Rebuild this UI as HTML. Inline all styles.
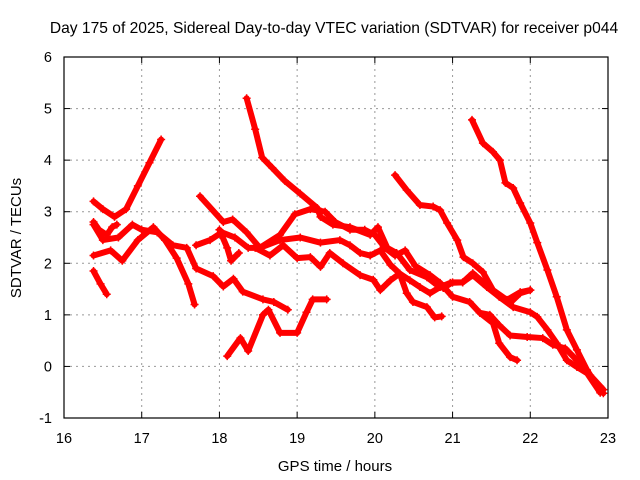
<!DOCTYPE html>
<html><head><meta charset="utf-8"><style>
body{margin:0;background:#fff}
svg{display:block;font-family:"Liberation Sans",sans-serif}
</style></head><body>
<svg id="chart" width="640" height="480">
<rect width="640" height="480" fill="#fff"/>
<text x="334" y="33" text-anchor="middle" font-size="15.6">Day 175 of 2025, Sidereal Day-to-day VTEC variation (SDTVAR) for receiver p044</text>
<text x="335" y="471" text-anchor="middle" font-size="15">GPS time / hours</text>
<text transform="translate(21,238) rotate(-90)" text-anchor="middle" font-size="15">SDTVAR / TECUs</text>
<g id="grid"></g><g id="ticks"></g><g id="marks"></g>
<rect x="64" y="57" width="544" height="361" fill="none" stroke="#000" stroke-width="1.2"/>
</svg>
<script>
const xTicks=[16,17,18,19,20,21,22,23];
const yTicks=[-1,0,1,2,3,4,5,6];
const s1=[[16.38,3.2],[16.5,3.05],[16.65,2.9],[16.8,3.05],[16.95,3.5],[17.1,3.95],[17.25,4.4]];
const s2=[[16.38,1.85],[16.47,1.6],[16.55,1.4]];
const s3=[[16.38,2.15],[16.6,2.25],[16.75,2.05],[16.95,2.45],[17.15,2.7],[17.3,2.45],[17.45,2.1],[17.6,1.6],[17.68,1.2]];
const s4=[[16.38,2.75],[16.5,2.45],[16.7,2.5],[16.88,2.75],[17.0,2.65],[17.2,2.6],[17.4,2.35],[17.58,2.3],[17.7,1.9],[17.92,1.75],[18.05,1.55],[18.18,1.7],[18.3,1.45],[18.56,1.3],[18.7,1.25],[18.88,1.1]];
const s5=[[18.1,0.2],[18.27,0.55],[18.37,0.3],[18.56,1.0],[18.63,1.1],[18.78,0.65],[19.0,0.65],[19.12,1.05],[19.2,1.3],[19.38,1.3]];
const s6=[[18.35,5.2],[18.46,4.6],[18.55,4.05],[18.68,3.85],[18.84,3.6],[19.04,3.35],[19.26,3.07],[19.3,2.9],[19.46,2.75],[19.68,2.7],[19.94,2.55],[20.04,2.7],[20.16,2.3],[20.28,2.2],[20.45,1.87],[20.67,1.73],[20.8,1.58],[20.88,1.52],[21.0,1.63],[21.13,1.63],[21.26,1.77],[21.44,1.54],[21.6,1.35],[21.74,1.23],[21.87,1.42],[22.0,1.48]];
const s7=[[18.52,2.3],[18.78,2.55],[18.97,2.95],[19.17,3.05],[19.36,3.0],[19.49,2.8],[19.68,2.65],[19.87,2.65],[20.0,2.55],[20.13,2.3],[20.26,2.15],[20.39,2.25],[20.52,1.95],[20.71,1.77],[20.84,1.62],[21.0,1.35],[21.22,1.25],[21.35,1.04],[21.48,1.0],[21.6,0.8],[21.74,0.6],[21.96,0.57],[22.16,0.55],[22.29,0.42],[22.45,0.35],[22.6,0.12],[22.77,-0.17],[22.94,-0.45]];
const s8=[[17.75,3.3],[18.05,2.8],[18.17,2.85],[18.35,2.6],[18.52,2.3],[18.78,2.45],[19.04,2.5],[19.3,2.4],[19.55,2.45],[19.68,2.35],[19.81,2.2],[19.94,2.15],[20.07,2.25],[20.2,1.97],[20.32,1.8],[20.45,1.67],[20.58,1.54],[20.71,1.42],[20.84,1.54],[20.97,1.62],[21.13,1.63],[21.26,1.81],[21.48,1.52],[21.6,1.35],[21.78,1.15],[22.0,1.05],[22.09,0.96],[22.22,0.71],[22.34,0.45],[22.47,0.12],[22.6,-0.01],[22.73,-0.13],[22.9,-0.51]];
const s9=[[17.7,2.35],[17.88,2.45],[18.03,2.6],[18.2,2.5],[18.37,2.3],[18.46,2.3],[18.65,2.15],[18.82,2.35],[19.0,2.1],[19.17,2.12],[19.3,1.93],[19.42,2.2],[19.59,2.0],[19.81,1.77],[19.98,1.68],[20.07,1.48],[20.2,1.67],[20.32,1.8],[20.41,1.42],[20.49,1.25],[20.67,1.15],[20.77,0.95],[20.86,0.97]];
const s10=[[18.0,2.65],[18.1,2.3],[18.15,2.05],[18.25,2.2]];
const s11=[[21.35,1.04],[21.52,0.84],[21.6,0.45],[21.74,0.18],[21.83,0.12]];
const s12=[[20.26,3.71],[20.41,3.42],[20.58,3.13],[20.75,3.1],[20.84,3.03],[20.93,2.78],[21.06,2.45],[21.14,2.12],[21.26,2.0],[21.39,1.83],[21.52,1.48],[21.7,1.29],[21.87,1.44],[22.0,1.48]];
const s13=[[21.25,4.78],[21.39,4.33],[21.52,4.16],[21.61,4.0],[21.68,3.56],[21.78,3.46],[21.87,3.17],[22.0,2.78],[22.09,2.4],[22.22,1.87],[22.34,1.35],[22.47,0.71],[22.6,0.32],[22.73,-0.07],[22.81,-0.26],[22.94,-0.52]];
const s14=[[16.38,2.8],[16.45,2.65],[16.55,2.55],[16.62,2.7],[16.68,2.75]];
const seriesList=[s1,s2,s3,s4,s5,s6,s7,s8,s9,s10,s11,s12,s13,s14];

const X=t=>64+(t-16)*(544/7);
const Y=v=>418-(v+1)*(361/7);
const NS='http://www.w3.org/2000/svg';
function mk(tag,attrs,parent){const e=document.createElementNS(NS,tag);for(const k in attrs)e.setAttribute(k,attrs[k]);parent.appendChild(e);return e;}
const grid=document.getElementById('grid'),ticks=document.getElementById('ticks'),marks=document.getElementById('marks');
xTicks.forEach(t=>{
  const x=X(t);
  if(t>16&&t<23){const g=mk('line',{x1:x,x2:x,y1:57,y2:418,stroke:'#999','stroke-dasharray':'2,4'},grid);
  
  }
  mk('line',{x1:x,x2:x,y1:418,y2:412,stroke:'#000'},ticks);mk('line',{x1:x,x2:x,y1:57,y2:63,stroke:'#000'},ticks);
  const l=mk('text',{x:x,y:443,'text-anchor':'middle','font-size':'14.5'},ticks);l.textContent=t;
  
  
});
yTicks.forEach(v=>{
  const y=Y(v);
  if(v>-1&&v<6){const g=mk('line',{x1:64,x2:608,y1:y,y2:y,stroke:'#999','stroke-dasharray':'2,4'},grid);
  
  }
  mk('line',{x1:64,x2:70,y1:y,y2:y,stroke:'#000'},ticks);mk('line',{x1:602,x2:608,y1:y,y2:y,stroke:'#000'},ticks);
  const l=mk('text',{x:52,y:y+5,'text-anchor':'end','font-size':'14.5'},ticks);l.textContent=v;
  
  
});
seriesList.forEach((s,i)=>{
  const g=mk('g',{},marks);
  
  
  mk('polyline',{points:s.map(p=>X(p[0])+','+Y(p[1])).join(' '),fill:'none',stroke:'#f00','stroke-width':6,'stroke-linejoin':'round','stroke-linecap':'round'},g);
  s.forEach(p=>{const x=X(p[0]),y=Y(p[1]);
    const m=mk('path',{d:`M${x-4},${y}H${x+4}M${x},${y-4}V${y+4}`,stroke:'#f00','stroke-width':1.5},g);
    
    });
});
</script>
</body></html>
